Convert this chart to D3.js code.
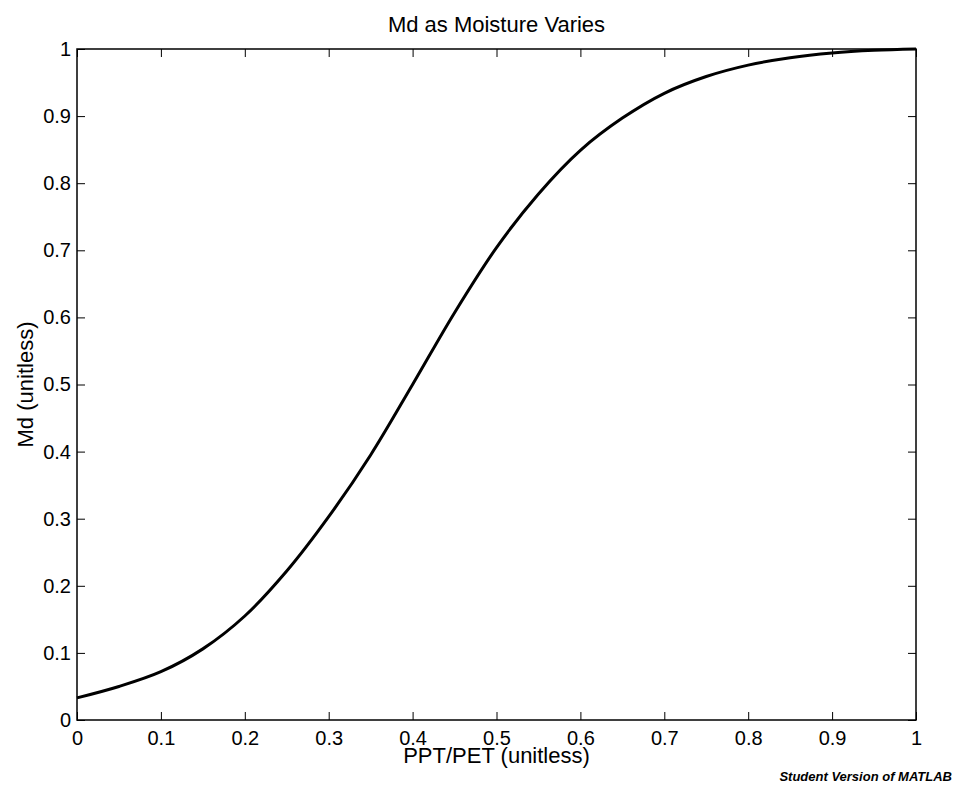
<!DOCTYPE html>
<html>
<head>
<meta charset="utf-8">
<script src="https://cdn.jsdelivr.net/npm/d3@7/dist/d3.min.js"></script>
<style>
body { margin: 0; background: #fff; }
text { font-family: "Liberation Sans", Arial, Helvetica, sans-serif; fill: #000; }
</style>
</head>
<body>
<div id="chart"></div>
<script>

// values
var ratio = [0, 0.05, 0.1, 0.15, 0.2, 0.25, 0.3, 0.35, 0.4, 0.45, 0.5,
             0.55, 0.6, 0.65, 0.7, 0.75, 0.8, 0.85, 0.9, 0.95, 1];
var md = [0.033, 0.050, 0.072, 0.106, 0.155, 0.222, 0.303, 0.395, 0.500, 0.607, 0.704,
          0.784, 0.849, 0.897, 0.934, 0.959, 0.976, 0.987, 0.994, 0.998, 1.0];
var ticks = [0, 0.1, 0.2, 0.3, 0.4, 0.5, 0.6, 0.7, 0.8, 0.9, 1];

var width = 956, height = 788;
var margin = {top: 49, right: 40, bottom: 68, left: 77};

var svg = d3.select('#chart').append('svg')
  .attr('width', width)
  .attr('height', height);

var x = d3.scaleLinear().domain([0, 1]).range([margin.left, width - margin.right]);
var y = d3.scaleLinear().domain([0, 1]).range([height - margin.bottom, margin.top]);

var tickFmt = function(d) { return d3.format('')(d); };

// axes, ticks pointing inward on all four sides
svg.append('g')
  .attr('transform', 'translate(0,' + y(0) + ')')
  .call(d3.axisBottom(x).tickValues(ticks).tickSizeInner(-8).tickSizeOuter(0).tickPadding(5).tickFormat(tickFmt))
  .call(function(g) { g.selectAll('text').attr('dy', '1em').style('font-size', '20px'); });

svg.append('g')
  .attr('transform', 'translate(0,' + y(1) + ')')
  .call(d3.axisTop(x).tickValues(ticks).tickSizeInner(-8).tickSizeOuter(0).tickFormat(''));

svg.append('g')
  .attr('transform', 'translate(' + x(0) + ',0)')
  .call(d3.axisLeft(y).tickValues(ticks).tickSizeInner(-8).tickSizeOuter(0).tickPadding(6).tickFormat(tickFmt))
  .call(function(g) { g.selectAll('text').style('font-size', '20px'); });

svg.append('g')
  .attr('transform', 'translate(' + x(1) + ',0)')
  .call(d3.axisRight(y).tickValues(ticks).tickSizeInner(-8).tickSizeOuter(0).tickFormat(''));

svg.selectAll('.domain').remove();
svg.selectAll('.tick line').attr('stroke', '#000');

// box
svg.append('rect')
  .attr('x', x(0)).attr('y', y(1))
  .attr('width', x(1) - x(0)).attr('height', y(0) - y(1))
  .attr('fill', 'none').attr('stroke', '#000').attr('stroke-width', 1.5);

// curve
var line = d3.line()
  .x(function(d, i) { return x(ratio[i]); })
  .y(function(d) { return y(d); })
  .curve(d3.curveCatmullRom.alpha(0.5));

svg.append('path')
  .datum(md)
  .attr('d', line)
  .attr('fill', 'none')
  .attr('stroke', '#000')
  .attr('stroke-width', 3);

// labels
svg.append('text')
  .attr('x', (x(0) + x(1)) / 2).attr('y', 32)
  .attr('text-anchor', 'middle')
  .style('font-size', '22px')
  .text('Md as Moisture Varies');

svg.append('text')
  .attr('x', (x(0) + x(1)) / 2).attr('y', 763)
  .attr('text-anchor', 'middle')
  .style('font-size', '22px')
  .text('PPT/PET (unitless)');

svg.append('text')
  .attr('transform', 'translate(33,' + ((y(0) + y(1)) / 2) + ') rotate(-90)')
  .attr('text-anchor', 'middle')
  .style('font-size', '22px')
  .text('Md (unitless)');

svg.append('text')
  .attr('x', 952).attr('y', 781)
  .attr('text-anchor', 'end')
  .style('font-size', '13px')
  .style('font-weight', 'bold')
  .style('font-style', 'italic')
  .text('Student Version of MATLAB');

</script>
</body>
</html>
